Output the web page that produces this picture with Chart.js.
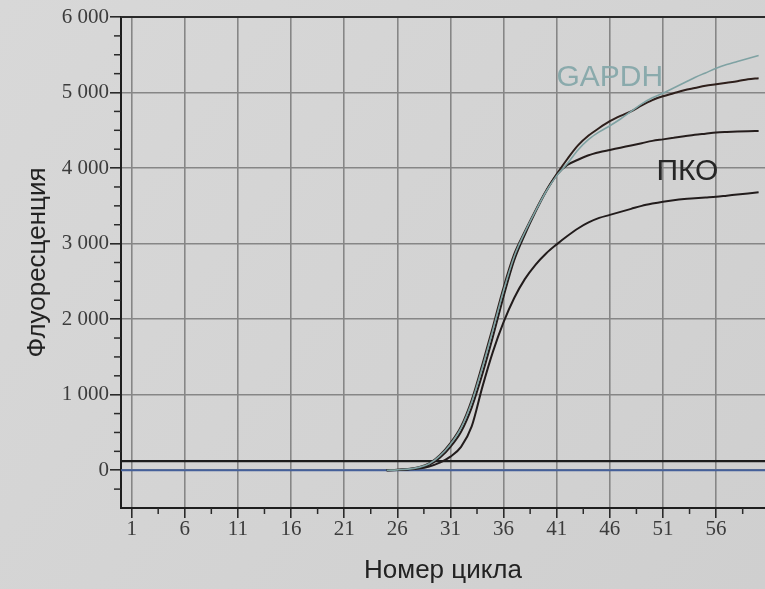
<!DOCTYPE html>
<html>
<head>
<meta charset="utf-8">
<script src="https://cdn.jsdelivr.net/npm/chart.js@4.4.1/dist/chart.umd.min.js"></script>
<style>
  html, body { margin: 0; padding: 0; background: #d5d5d5; }
  #wrap { width: 765px; height: 589px; position: relative; }
</style>
</head>
<body>
<div id="wrap"><canvas id="c" width="765" height="589"></canvas></div>
<script>
// ---- data ----
const cycles = [25,26,27,28,29,30,31,32,33,34,35,36,37,38,39,40,41,42,43,44,45,46,47,48,49,50,51,52,53,54,55,56,57,58,59,60];
const gapdh  = [0,5,15,38,85,190,345,560,900,1360,1860,2380,2830,3150,3430,3690,3900,4060,4240,4380,4480,4560,4650,4750,4850,4930,4990,5060,5130,5200,5260,5320,5370,5410,5450,5490];
const sampleA = [0,5,15,40,90,200,360,580,930,1400,1900,2420,2860,3160,3440,3700,3920,4120,4300,4430,4530,4620,4690,4750,4830,4900,4950,4990,5030,5060,5090,5110,5130,5150,5175,5190];
const sampleB = [0,4,12,32,72,165,310,510,830,1270,1770,2300,2780,3120,3420,3690,3910,4040,4110,4170,4210,4240,4270,4300,4330,4360,4380,4400,4420,4440,4455,4470,4478,4484,4488,4490];
const sampleC = [0,3,10,22,50,100,180,310,580,1100,1570,1960,2280,2530,2720,2870,2990,3100,3200,3280,3340,3380,3420,3460,3500,3530,3555,3575,3590,3600,3610,3620,3635,3650,3665,3680];
const baselineLevel = 0;
const thresholdLevel = 120;
const xTicks = [1,6,11,16,21,26,31,36,41,46,51,56];
const xMinorTicks = [3.5,8.5,13.5,18.5,23.5,28.5,33.5,38.5,43.5,48.5,53.5,58.5];
const yTicks = [0,1000,2000,3000,4000,5000,6000];
const yTickLabels = ['0','1 000','2 000','3 000','4 000','5 000','6 000'];
const yMinorTicks = [-250,250,500,750,1250,1500,1750,2250,2500,2750,3250,3500,3750,4250,4500,4750,5250,5500,5750];
const xRange = [0, 60.6];
const yRange = [-500, 6000];
const xTitle = 'Номер цикла';
const yTitle = 'Флуоресценция';
const labelGapdh = {text: 'GAPDH', x: 46, y: 5200};
const labelPko = {text: 'ПКО', x: 53.3, y: 3950};

function pts(ys) { return cycles.map((c, i) => ({x: c, y: ys[i]})); }
function flat(v) { return [{x: xRange[0], y: v}, {x: xRange[1], y: v}]; }

const bgPlugin = {
  id: 'bg',
  beforeDraw(chart) {
    const ctx = chart.ctx;
    const g = ctx.createLinearGradient(0, 0, chart.width, chart.height);
    g.addColorStop(0, '#d8d8d8');
    g.addColorStop(1, '#cfcfcf');
    ctx.save();
    ctx.fillStyle = g;
    ctx.fillRect(0, 0, chart.width, chart.height);
    ctx.restore();
  }
};

const decoPlugin = {
  id: 'deco',
  afterDraw(chart) {
    const ctx = chart.ctx;
    const xs = chart.scales.x, ys = chart.scales.y;
    const ca = chart.chartArea;
    ctx.save();
    ctx.strokeStyle = '#2a2a2a';
    ctx.lineWidth = 1.5;
    // minor ticks
    yMinorTicks.forEach(v => {
      const py = ys.getPixelForValue(v);
      ctx.beginPath(); ctx.moveTo(ca.left - 7, py); ctx.lineTo(ca.left, py); ctx.stroke();
    });
    xMinorTicks.forEach(v => {
      const px = xs.getPixelForValue(v);
      ctx.beginPath(); ctx.moveTo(px, ca.bottom); ctx.lineTo(px, ca.bottom + 6); ctx.stroke();
    });
    // top frame
    ctx.lineWidth = 2;
    ctx.beginPath(); ctx.moveTo(ca.left, ys.getPixelForValue(yRange[1])); ctx.lineTo(ca.right, ys.getPixelForValue(yRange[1])); ctx.stroke();
    // annotations
    ctx.textAlign = 'center';
    ctx.textBaseline = 'middle';
    ctx.font = '30px "Liberation Sans", Arial, sans-serif';
    ctx.fillStyle = '#8aaaac';
    ctx.fillText(labelGapdh.text, xs.getPixelForValue(labelGapdh.x), ys.getPixelForValue(labelGapdh.y));
    ctx.fillStyle = '#262626';
    ctx.fillText(labelPko.text, xs.getPixelForValue(labelPko.x), ys.getPixelForValue(labelPko.y));
    ctx.restore();
  }
};

const lineDs = (label, data, color, w) => ({
  label, data, borderColor: color, borderWidth: w, pointRadius: 0,
  cubicInterpolationMode: 'monotone', fill: false
});

new Chart(document.getElementById('c'), {
  type: 'line',
  data: {
    datasets: [
      lineDs('GAPDH', pts(gapdh), '#7fa2a3', 1.6),
      lineDs('A', pts(sampleA), '#2e1f1b', 2),
      lineDs('B', pts(sampleB), '#251d1c', 2),
      lineDs('C', pts(sampleC), '#221c1c', 2),
      lineDs('threshold', flat(thresholdLevel), '#1c1c1c', 2.2),
      lineDs('baseline', flat(baselineLevel), '#45609a', 2)
    ]
  },
  options: {
    responsive: false,
    animation: false,
    layout: { padding: { top: 17, right: 0, left: 0, bottom: 0 } },
    plugins: { legend: { display: false }, tooltip: { enabled: false } },
    scales: {
      x: {
        type: 'linear', min: xRange[0], max: xRange[1],
        afterBuildTicks(s) { s.ticks = xTicks.map(v => ({value: v})); },
        afterFit(s) { s.height = 81; },
        grid: { color: '#868686', lineWidth: 1.6, tickLength: 10, tickColor: '#2a2a2a', drawOnChartArea: true },
        border: { color: '#1e1e1e', width: 2 },
        ticks: { color: '#3c3c3c', padding: 1, maxRotation: 0, autoSkip: false,
                 font: { family: '"Liberation Serif", "Times New Roman", serif', size: 21, lineHeight: 1.0 } },
        title: { display: true, text: xTitle, color: '#222', padding: { top: 0, bottom: 3 },
                 font: { family: '"Liberation Sans", Arial, sans-serif', size: 26 } }
      },
      y: {
        type: 'linear', min: yRange[0], max: yRange[1],
        afterBuildTicks(s) { s.ticks = yTicks.map(v => ({value: v})); },
        afterFit(s) { s.width = 121; },
        grid: { color: '#868686', lineWidth: 1.6, tickLength: 11, tickColor: '#2a2a2a' },
        border: { color: '#1e1e1e', width: 2 },
        ticks: { color: '#3c3c3c', padding: 1,
                 callback: (v) => { const i = yTicks.indexOf(v); return i >= 0 ? yTickLabels[i] : ''; },
                 font: { family: '"Liberation Serif", "Times New Roman", serif', size: 21 } },
        title: { display: true, text: yTitle, color: '#222', padding: { top: 22, bottom: 0 },
                 font: { family: '"Liberation Sans", Arial, sans-serif', size: 26 } }
      }
    }
  },
  plugins: [bgPlugin, decoPlugin]
});
</script>
</body>
</html>
